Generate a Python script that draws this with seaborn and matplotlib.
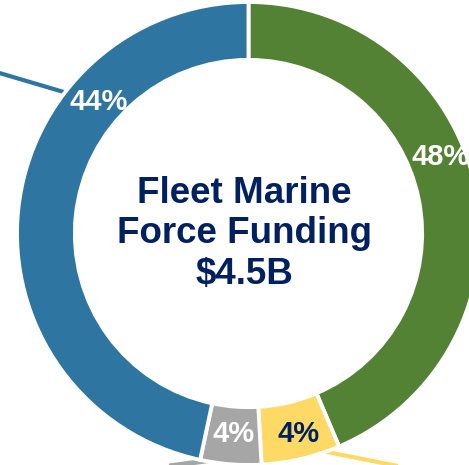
import numpy as np
import matplotlib
matplotlib.use("Agg")
import matplotlib.pyplot as plt
import seaborn as sns

# slice shares as drawn (clockwise from 12 o'clock) and the printed labels
segments = ["Green", "Yellow", "Gray", "Blue"]
shares = [43.6, 5.5, 4.25, 46.65]
pct_labels = ["48%", "4%", "4%", "44%"]
colors = ["#548235", "#FFD966", "#A6A6A6", "#2E76A1"]
label_colors = ["white", "#002060", "white", "white"]
center_title = "Fleet Marine\nForce Funding\n$4.5B"

# where the labels sit on the ring: clockwise degrees from top, radius
label_angle = [68.3, 165.9, 184.4, 311.3]
label_radius = [0.894, 0.894, 0.868, 0.86]

sns.set_theme(style="white")
plt.rcParams["font.family"] = ["Liberation Sans", "DejaVu Sans"]

fig = plt.figure(figsize=(4.69, 4.65), dpi=100)
ax = fig.add_axes([0, 0, 1, 1])

ax.pie(shares, colors=colors, startangle=90, counterclock=False,
       radius=1.0,
       wedgeprops=dict(width=0.25, edgecolor="white", linewidth=2.8))

# leader lines running off to labels outside the crop
leaders = [
    ((-0.784, 0.607), (-1.2, 0.73), colors[3], 3.0),
    ((0.296, -0.935), (0.9, -1.055), colors[1], 3.0),
    ((-0.153, -0.978), (-0.6, -1.04), colors[2], 3.6),
]
for (x0, y0), (x1, y1), c, lw in leaders:
    ax.plot([x0, x1], [y0, y1], color=c, lw=lw, solid_capstyle="butt", zorder=0)

for lab, a, r, tc in zip(pct_labels, label_angle, label_radius, label_colors):
    t = np.deg2rad(a)
    ax.text(r * np.sin(t), r * np.cos(t), lab, ha="center", va="center",
            fontsize=21, fontweight="bold", color=tc)

ax.text(-0.019, -0.002, center_title, ha="center", va="center",
        multialignment="center", fontsize=26.5, fontweight="bold",
        color="#002060", linespacing=1.22)

ax.set_xlim(-1.0734, 0.9525)
ax.set_ylim(-1.0, 1.0086)
ax.set_aspect("auto")
ax.axis("off")

fig.savefig("out.png", dpi=100)
